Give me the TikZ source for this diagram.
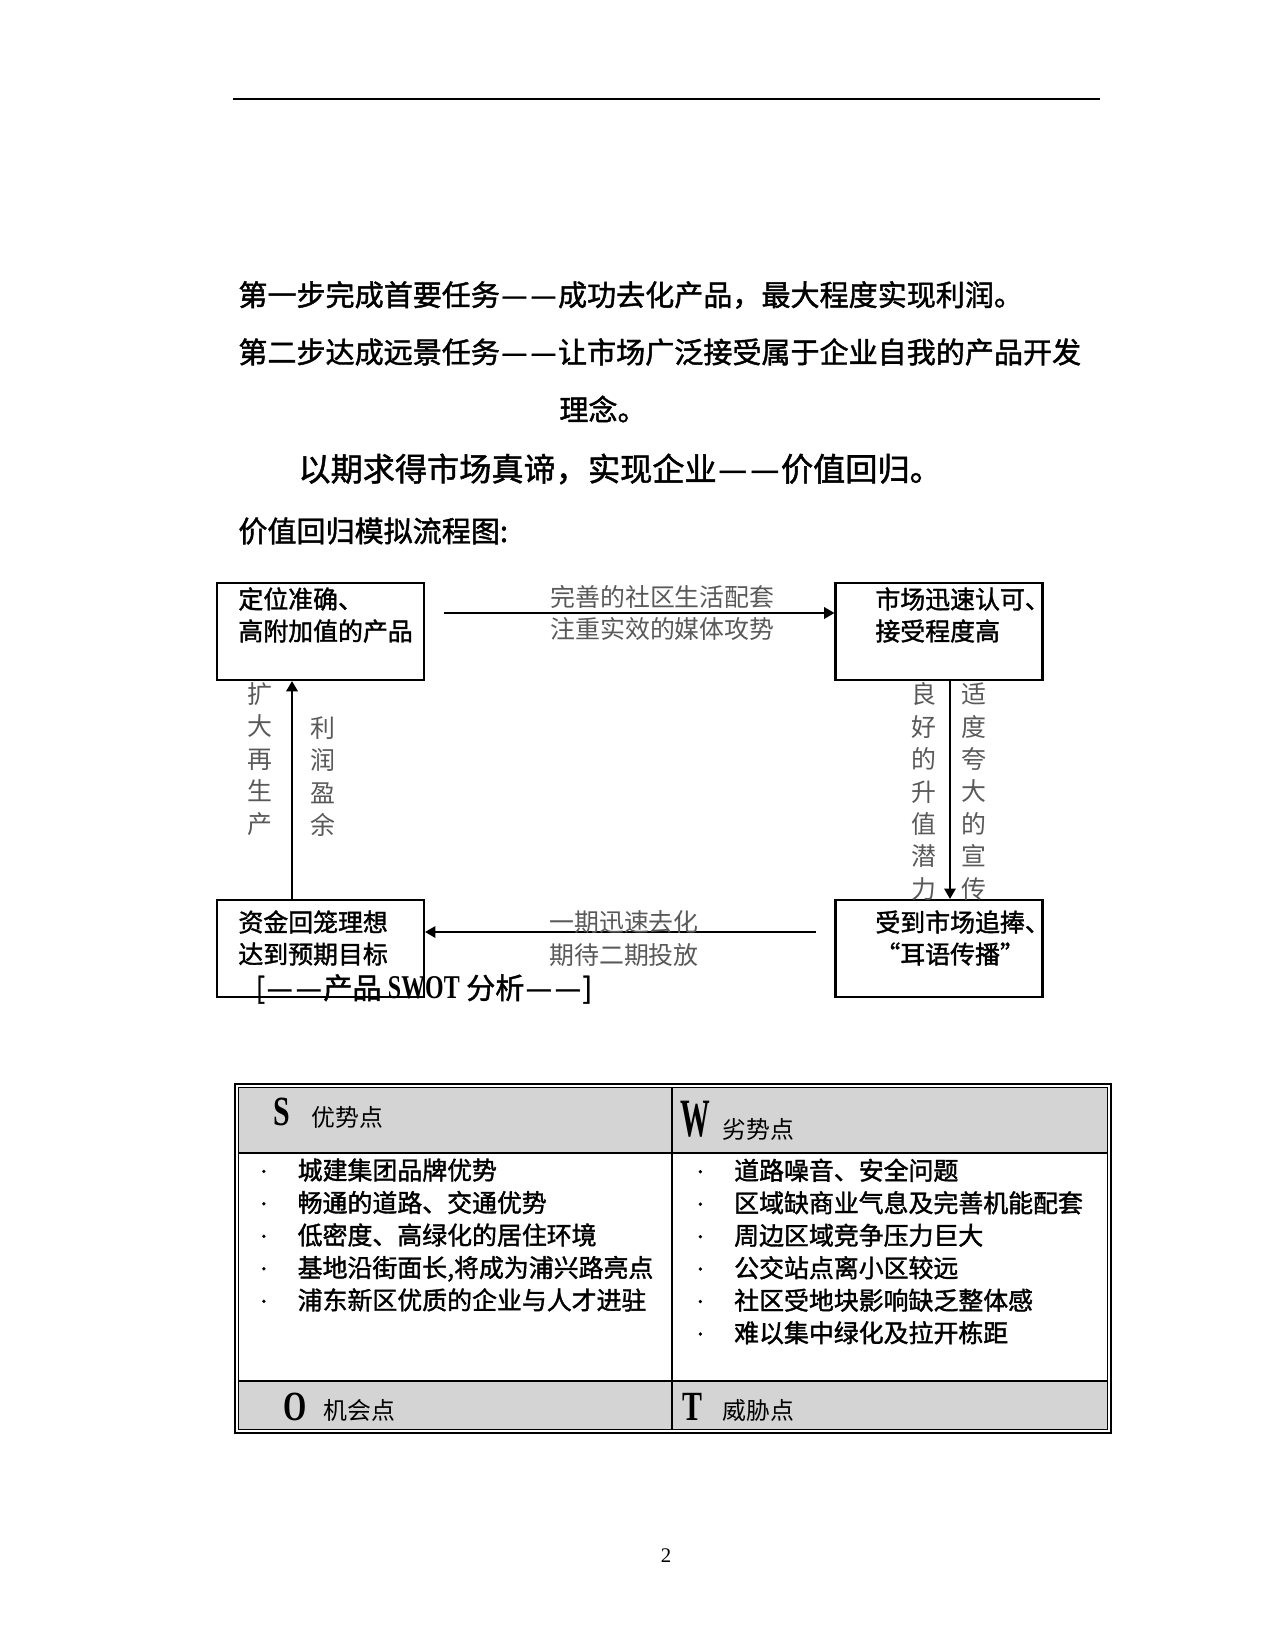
\documentclass[tikz,border=0pt]{standalone}
\usepackage{fontspec}
\usepackage{graphicx}
\setmainfont{Noto Sans CJK SC}
\newfontfamily\hvf[FakeBold=1.5]{Noto Sans CJK SC}
\newfontfamily\romf{Liberation Serif}
\usetikzlibrary{arrows.meta,positioning,calc}

\newcommand{\itm}[1]{\makebox[22.3pt][l]{\hspace{2.4pt}\raisebox{0.1em}{\scalebox{0.6}{·}}}#1}
\newcommand{\nar}[1]{\scalebox{0.72}[1]{#1}}
\newcommand{\dd}{\makebox[1em]{\resizebox{0.9em}{\height}{—}}}

\begin{document}
\begin{tikzpicture}[x=0.16933mm,y=-0.16933mm,>={Triangle[length=5pt,width=5.5pt]},font=\fontsize{12}{15.6}\selectfont]
\tikzstyle{bx}=[draw,line width=1pt,minimum width=35.05mm,minimum height=16.43mm,inner sep=0pt]
\tikzstyle{bt}=[anchor=west,align=left,inner sep=0pt,font=\hvf\fontsize{12}{15.4}\selectfont]
\tikzstyle{lb}=[align=center,inner sep=0pt,text=black!65,font=\fontsize{12}{15.8}\selectfont]
\tikzstyle{vl}=[align=center,inner sep=0pt,text=black!65,font=\fontsize{12}{15.6}\selectfont]
\tikzstyle{txt}=[anchor=west,inner sep=0pt,font=\hvf\fontsize{14}{16}\selectfont]
\tikzstyle{hd}=[inner sep=0pt,font=\romf\bfseries\fontsize{20}{20}\selectfont]
\tikzstyle{hc}=[anchor=west,inner sep=0pt,font=\fontsize{11.5}{13}\selectfont]
\tikzstyle{it}=[anchor=west,align=left,inner sep=0pt,font=\hvf\fontsize{12}{15.65}\selectfont]

\useasboundingbox (0,0) rectangle (1275,1650);
\draw[line width=0.5pt] (233,99) -- (1100,99);

% text
\node[txt] (l1) at (238,295) {第一步完成首要任务\dd\dd 成功去化产品，最大程度实现利润。};
\node[txt] (l2) at (238,352) {第二步达成远景任务\dd\dd 让市场广泛接受属于企业自我的产品开发};
\node[txt,anchor=center] (l3) at (603,409) {理念。};
\node[txt,font=\hvf\fontsize{15.5}{18}\selectfont] (l4) at (298,469) {以期求得市场真谛，实现企业\dd\dd 价值回归。};
\node[txt] (l5) at (238,531) {价值回归模拟流程图:};

% flow boxes
\node[bx] (b1) at (320.5,631.5) {};
\node[bx] (b2) at (939,631.5) {};
\node[bx] (b3) at (320.5,948.5) {};
\node[bx] (b4) at (939,948.5) {};
\node[bt] (t1) at (238,615) {定位准确、\\高附加值的产品};
\node[bt] (t2) at (875,615) {市场迅速认可、\\接受程度高};
\node[bt] (t3) at (238,938) {资金回笼理想\\达到预期目标};
\node[bt] (t4) at (875,938) {受到市场追捧、\\“耳语传播”};

\coordinate (rx) at (950,0);
\coordinate (lx) at (292,0);
\draw[->,line width=1pt,shorten <=9pt] (b1.east |- 0,613) -- node[lb,pos=0.58]{完善的社区生活配套\\注重实效的媒体攻势} (b2.west |- 0,613);
\draw[->,line width=1pt] (b2.south -| rx) -- (b4.north -| rx);
\draw[->,line width=1pt,shorten <=9pt] (b4.west |- 0,932) -- (b3.east |- 0,932);
\draw[->,line width=1.4pt] (b3.north -| lx) -- (b1.south -| lx);
\node[lb] (m1) at (624,938.5) {一期迅速去化\\期待二期投放};
\node[vl] (v1) at (924,791.5) {良\\好\\的\\升\\值\\潜\\力};
\node[vl] (v2) at (974,791.5) {适\\度\\夸\\大\\的\\宣\\传};
\node[vl] (v3) at (260,759) {扩\\大\\再\\生\\产};
\node[vl] (v4) at (323,776.5) {利\\润\\盈\\余};

\node[txt] (sw) at (255,989) {[\dd\dd 产品 {\romf\bfseries\fontsize{16}{16}\selectfont\nar{SWOT}} 分析\dd\dd ]};

% swot table
\fill[black!17] (238.5,1087.5) rectangle (1107.5,1153);
\fill[black!17] (238.5,1381) rectangle (1107.5,1429.5);
\draw[line width=1.1pt] (235,1084) rectangle (1111,1433);
\draw[line width=0.5pt] (238.5,1087.5) rectangle (1107.5,1429.5);
\draw[line width=0.8pt] (238.5,1153) -- (1107.5,1153);
\draw[line width=0.5pt] (238.5,1381) -- (1107.5,1381);
\draw[line width=0.5pt] (672,1087.5) -- (672,1429.5);

\node[hd] (hs) at (282,1112) {\nar{S}};
\node[hc] (cs) at (311,1117) {优势点};
\node[hd,font=\romf\bfseries\fontsize{26}{26}\selectfont] (hw) at (695,1119) {\scalebox{0.55}[1]{W}};
\node[hc] (cw) at (722,1129) {劣势点};
\node[hd] (ho) at (295,1407) {\nar{O}};
\node[hc] (co) at (323,1410) {机会点};
\node[hd] (ht) at (692,1407) {\nar{T}};
\node[hc] (ct) at (722,1410) {威胁点};

\node[it] (ls) at (251,1235) {\itm{城建集团品牌优势}\\\itm{畅通的道路、交通优势}\\\itm{低密度、高绿化的居住环境}\\\itm{基地沿街面长,将成为浦兴路亮点}\\\itm{浦东新区优质的企业与人才进驻}};
\node[it] (lw) at (687.5,1251.5) {\itm{道路噪音、安全问题}\\\itm{区域缺商业气息及完善机能配套}\\\itm{周边区域竞争压力巨大}\\\itm{公交站点离小区较远}\\\itm{社区受地块影响缺乏整体感}\\\itm{难以集中绿化及拉开栋距}};

\node[inner sep=0pt,font=\romf\fontsize{10}{12}\selectfont] (pg) at (666,1556) {2};
\end{tikzpicture}
\end{document}
